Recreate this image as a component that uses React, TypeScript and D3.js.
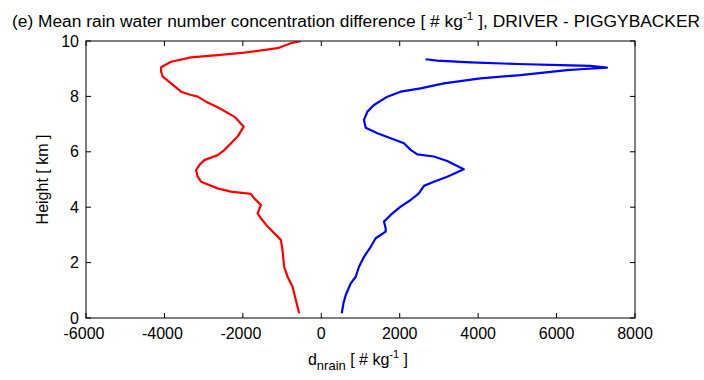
import React from "react";
import * as d3 from "d3";

const xTicks = [-6000, -4000, -2000, 0, 2000, 4000, 6000, 8000];
const yTicks = [0, 2, 4, 6, 8, 10];

const driverHeight = [10.0, 9.92, 9.74, 9.58, 9.49, 9.41, 9.25, 9.05, 8.89, 8.71, 8.47, 8.17, 8.07, 7.99, 7.81, 7.61, 7.27, 6.91, 6.55, 6.06, 5.88, 5.70, 5.52, 5.34, 5.10, 4.92, 4.68, 4.56, 4.48, 4.32, 4.08, 3.78, 3.60, 3.30, 2.82, 2.45, 1.85, 1.49, 1.13, 0.65, 0.17];
const driverValue = [-520, -776, -1115, -1965, -2643, -3321, -3830, -4085, -4085, -4043, -3830, -3576, -3364, -3151, -2939, -2643, -2219, -1980, -2133, -2473, -2643, -2983, -3110, -3194, -3151, -3067, -2643, -2303, -1794, -1710, -1540, -1624, -1540, -1369, -1031, -988, -947, -860, -733, -649, -565];

const piggyHeight = [9.34, 9.29, 9.23, 9.17, 9.13, 9.10, 9.04, 8.98, 8.95, 8.77, 8.65, 8.47, 8.29, 8.17, 7.99, 7.69, 7.45, 7.15, 6.87, 6.67, 6.49, 6.31, 6.07, 5.91, 5.83, 5.67, 5.37, 5.10, 4.92, 4.77, 4.50, 4.26, 4.02, 3.72, 3.48, 3.24, 3.12, 2.88, 2.57, 2.21, 1.85, 1.49, 1.25, 0.83, 0.53, 0.17];
const piggyValue = [2660, 2957, 3805, 4993, 6095, 6859, 7284, 6604, 6266, 5077, 4059, 3125, 2532, 2023, 1685, 1344, 1176, 1089, 1133, 1430, 1769, 2108, 2278, 2448, 2871, 3212, 3634, 3212, 2871, 2617, 2490, 2278, 2023, 1769, 1599, 1642, 1642, 1387, 1260, 1089, 962, 878, 751, 624, 565, 522];

const W = 704, H = 380;
const L = 86, R = 635, T = 41, B = 318;
const font = "'Liberation Sans', Arial, sans-serif";

export default function App() {
  const x = d3.scaleLinear().domain([-6000, 8000]).range([L, R]);
  const y = d3.scaleLinear().domain([0, 10]).range([B, T]);
  const line = d3.line<[number, number]>().x(d => x(d[0])).y(d => y(d[1]));
  const red = driverValue.map((v, i) => [v, driverHeight[i]] as [number, number]);
  const blue = piggyValue.map((v, i) => [v, piggyHeight[i]] as [number, number]);
  const tl = 5;
  return (
    <svg width={W} height={H} style={{ position: "absolute", left: 0, top: 0, background: "#fff" }} fontFamily={font}>
      <rect x={0} y={0} width={W} height={H} fill="#fff" />
      <text x={12} y={27} fontSize={16} fill="#000" textLength={688} lengthAdjust="spacingAndGlyphs">
        (e) Mean rain water number concentration difference [ # kg
        <tspan dy={-7} fontSize={11}>-1</tspan>
        <tspan dy={7}>  ], DRIVER - PIGGYBACKER</tspan>
      </text>
      <defs>
        <clipPath id="clip"><rect x={L} y={T} width={R - L} height={B - T} /></clipPath>
      </defs>
      <g clipPath="url(#clip)">
        <path d={line(red) || ""} fill="none" stroke="#ff0000" strokeWidth={2.2} strokeLinejoin="round" />
        <path d={line(blue) || ""} fill="none" stroke="#0000ff" strokeWidth={2.2} strokeLinejoin="round" />
      </g>
      <rect x={L} y={T} width={R - L} height={B - T} fill="none" stroke="#000" strokeWidth={1} />
      {xTicks.map(t => (
        <g key={"x" + t}>
          <line x1={x(t)} x2={x(t)} y1={B} y2={B - tl} stroke="#000" />
          <line x1={x(t)} x2={x(t)} y1={T} y2={T + tl} stroke="#000" />
          <text x={x(t) - (t < 0 ? 2 : 0)} y={339} fontSize={16} textAnchor="middle" fill="#000">{t}</text>
        </g>
      ))}
      {yTicks.map(t => (
        <g key={"y" + t}>
          <line x1={L} x2={L + tl} y1={y(t)} y2={y(t)} stroke="#000" />
          <line x1={R} x2={R - tl} y1={y(t)} y2={y(t)} stroke="#000" />
          <text x={79} y={y(t) + 5.5} fontSize={16} textAnchor="end" fill="#000">{t}</text>
        </g>
      ))}
      <text transform={`translate(48,${(T + B) / 2}) rotate(-90)`} fontSize={16} textAnchor="middle" fill="#000">Height [ km ]</text>
      <text x={358} y={365} fontSize={16} textAnchor="middle" fill="#000">
        d<tspan dy={5} fontSize={13}>nrain</tspan>
        <tspan dy={-5}>  [ # kg</tspan>
        <tspan dy={-7} fontSize={11}>-1</tspan>
        <tspan dy={7}>  ]</tspan>
      </text>
    </svg>
  );
}
